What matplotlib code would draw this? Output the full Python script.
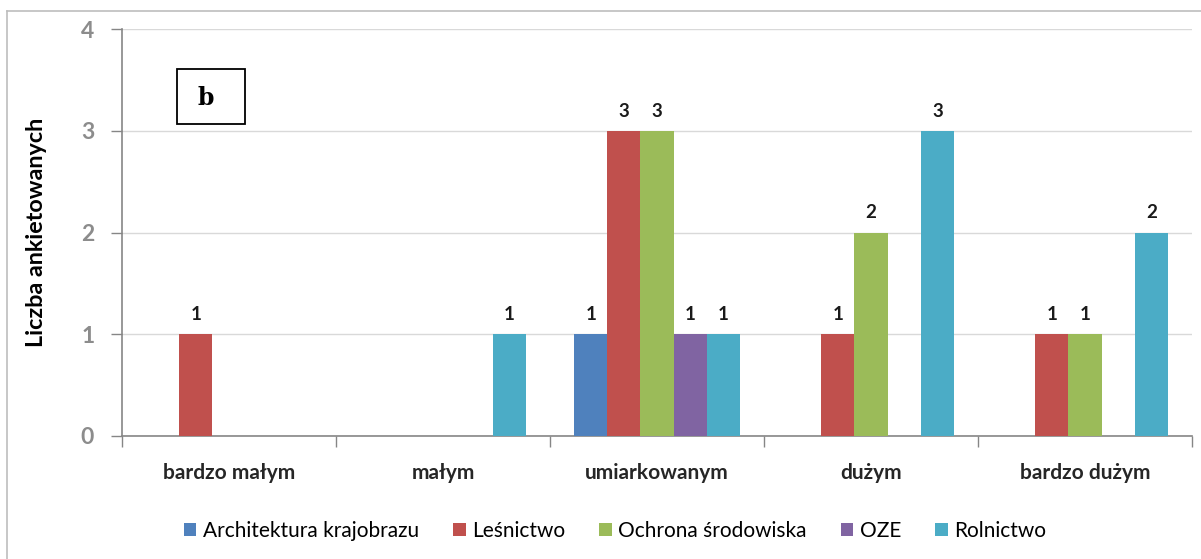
import numpy as np
import matplotlib.pyplot as plt
from matplotlib.patches import Rectangle
from matplotlib.lines import Line2D

categories = ['bardzo małym', 'małym', 'umiarkowanym', 'dużym', 'bardzo dużym']
series_names = ['Architektura krajobrazu', 'Leśnictwo', 'Ochrona środowiska', 'OZE', 'Rolnictwo']
values = {
    'Architektura krajobrazu': [0, 0, 1, 0, 0],
    'Leśnictwo':               [1, 0, 3, 1, 1],
    'Ochrona środowiska':      [0, 0, 3, 2, 1],
    'OZE':                     [0, 0, 1, 0, 0],
    'Rolnictwo':               [0, 1, 1, 3, 2],
}
colors = ['#4F81BD', '#C0504D', '#9BBB59', '#8064A2', '#4BACC6']
y_ticks = [0, 1, 2, 3, 4]

plt.rcParams['font.family'] = ['Lato', 'DejaVu Sans']

fig = plt.figure(figsize=(12.01, 5.59), dpi=100)
ax = fig.add_axes([122 / 1201, 1 - 436 / 559, (1192 - 122) / 1201, (436 - 29) / 559])

# outer chart border (top and left only visible)
fig.add_artist(Line2D([7 / 1201, 7 / 1201], [0, 1 - 11 / 559], color='#bdbdbd', lw=1.2))
fig.add_artist(Line2D([7 / 1201, 1], [1 - 11 / 559, 1 - 11 / 559], color='#bdbdbd', lw=1.2))

x = np.arange(len(categories))
w = 0.155
for i, (name, col) in enumerate(zip(series_names, colors)):
    vals = np.array(values[name], dtype=float)
    pos = x + (i - 2) * w
    ax.bar(pos, vals, width=w, color=col, label=name, zorder=3)
    for p, v in zip(pos, vals):
        if v > 0:
            ax.text(p, v + 0.11, f'{int(v)}', ha='center', va='bottom',
                    fontsize=13.5, fontweight='bold', color='#1a1a1a')

ax.set_xlim(-0.5, len(categories) - 0.5)
ax.set_ylim(0, 4)
ax.set_yticks(y_ticks)
ax.set_yticklabels([str(t) for t in y_ticks], fontsize=16.5, fontweight='bold', color='#8c8c8c')
ax.tick_params(axis='y', length=8, width=1, color='#868686', pad=12)
ax.grid(axis='y', color='#d9d9d9', lw=1, zorder=0)

ax.set_xticks(np.arange(len(categories) + 1) - 0.5)
ax.set_xticklabels([])
ax.tick_params(axis='x', length=8, width=1, color='#868686', direction='out')
for xi, c in zip(x, categories):
    ax.text(xi, -0.27, c, ha='center', va='top', fontsize=15, fontweight='bold',
            color='#262626', transform=ax.transData)

for s in ['top', 'right']:
    ax.spines[s].set_visible(False)
for s in ['left', 'bottom']:
    ax.spines[s].set_color('#868686')
    ax.spines[s].set_linewidth(1.2)

ax.set_ylabel('Liczba ankietowanych', fontsize=16.8, fontweight='bold')
ax.yaxis.set_label_coords(-(122 - 47) / 1070, 0.5)

# panel letter box
fig.add_artist(Rectangle((177 / 1201, 1 - 124 / 559), 68 / 1201, 55 / 559,
                         transform=fig.transFigure, fill=False, ec='black', lw=1.3))
fig.text(206 / 1201, 1 - 98 / 559, 'b', ha='center', va='center', fontsize=17,
         fontweight='bold', family='DejaVu Serif')

ax.legend(loc='center', bbox_to_anchor=((615 - 122) / 1070, -(531 - 436) / 407), ncol=5,
          frameon=False, fontsize=15, handlelength=0.6, handleheight=0.6,
          handletextpad=0.3, columnspacing=1.65)

fig.savefig('out.png', dpi=100)
